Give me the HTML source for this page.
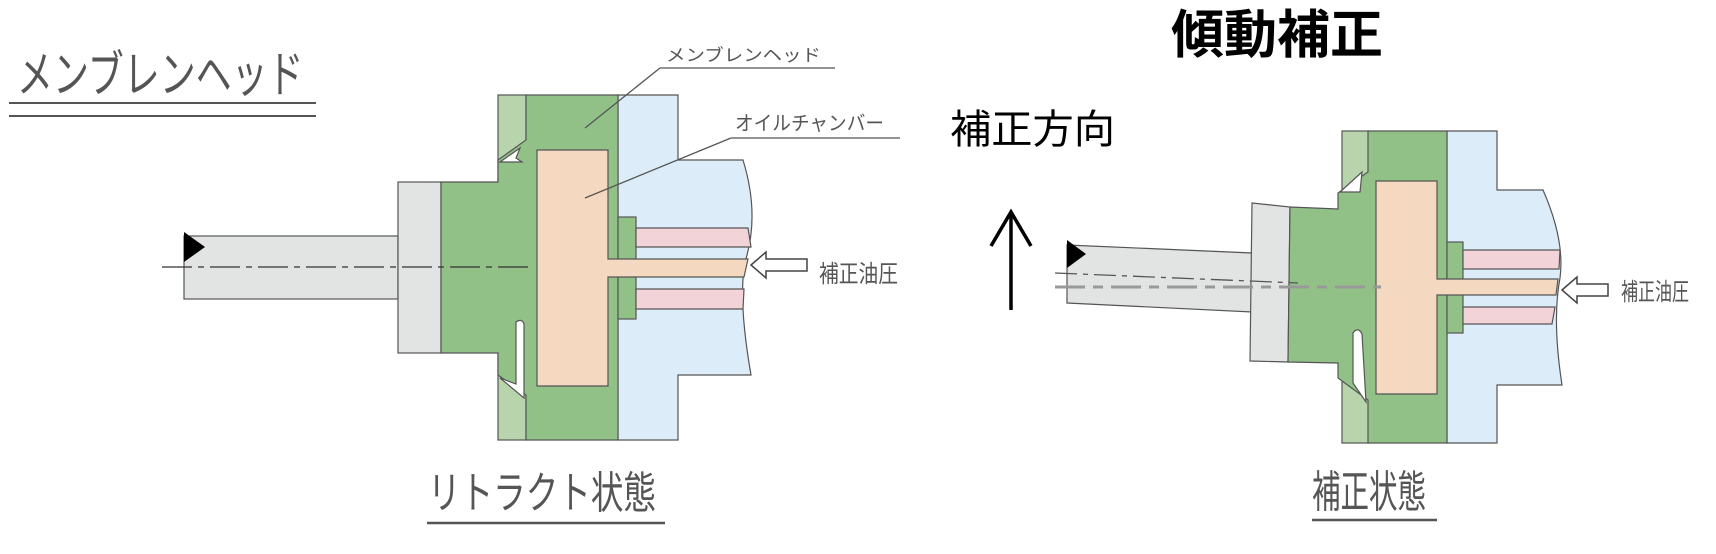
<!DOCTYPE html>
<html><head><meta charset="utf-8"><style>
html,body{margin:0;padding:0;background:#fff;}
svg{display:block;}
.t{font-family:"Liberation Sans","Noto Sans CJK JP",sans-serif;}
</style></head><body>
<svg width="1716" height="554" viewBox="0 0 1716 554" xmlns="http://www.w3.org/2000/svg">
<g stroke="#555" stroke-width="1.2">
<!-- LEFT DIAGRAM -->
<!-- blue housing -->
<path d="M618,95 H678 V160 H743 Q760,215 745,262 Q738,300 751,375 H678 V440 H618 Z" fill="#dcecf8"/>
<!-- shaft -->
<rect x="184" y="236" width="214" height="63" fill="#e2e3e3"/>
<!-- hub -->
<rect x="398" y="182" width="43" height="171" fill="#e2e3e3"/>
<!-- light green flange -->
<rect x="498" y="95" width="28" height="345" fill="#b7d4ad"/>
<!-- green body -->
<path d="M441,182 H498 V160 L526,140 V95 H618 V440 H526 V395 L498,375 V353 H441 Z" fill="#92c188"/>
<rect x="618" y="217" width="18" height="102" fill="#92c188"/>
<!-- notches -->
<path d="M500,162 L520,148 L516,158 L522,162 Z" fill="#fff"/>
<path d="M516,322 Q522,318 524,324 L524,398 L500,378 L516,384 Z" fill="#fff"/>
<!-- orange chamber -->
<path d="M537,150 H608 V259 H748 L744,277 H608 V386 H537 Z" fill="#f4d8c0"/>
<!-- pink -->
<path d="M636,228 H748 L751,247 H636 Z" fill="#f2d3d8"/>
<path d="M636,289 H744 L743,309 H636 Z" fill="#f2d3d8"/>
<!-- centerline -->
<line x1="162" y1="267" x2="530" y2="267" stroke="#333" stroke-dasharray="30,6,6,6"/>
</g>
<path d="M184,232 L205,247 L184,262 Z" fill="#000"/>
<!-- leaders -->
<g stroke="#555" stroke-width="1.3" fill="none">
<line x1="660" y1="68" x2="835" y2="68"/>
<line x1="660" y1="68" x2="585" y2="128"/>
<line x1="731" y1="138" x2="900" y2="138"/>
<line x1="731" y1="138" x2="585" y2="198"/>
<line x1="9" y1="103" x2="316" y2="103" stroke-width="2"/>
<line x1="9" y1="116" x2="316" y2="116" stroke-width="2"/>
<line x1="427" y1="523" x2="665" y2="523" stroke-width="2.5"/>
<line x1="1312" y1="520" x2="1437" y2="520" stroke-width="2.5"/>
<!-- hollow arrows -->
<path d="M751,265 L766,252 V259 H807 V271 H766 V278 Z" stroke="#444" stroke-width="1.5"/>
<path d="M1562,290 L1577,277 V284 H1608 V296 H1577 V303 Z" stroke="#444" stroke-width="1.5"/>
</g>

<!-- RIGHT DIAGRAM -->
<g stroke="#555" stroke-width="1.2">
<path d="M1447,131 H1497 V190 H1543 Q1565,240 1560,278 Q1552,320 1562,385 H1497 V443 H1447 Z" fill="#dcecf8"/>
<path d="M1067,245 L1252,253 V312 L1067,303 Z" fill="#e2e3e3"/>
<path d="M1252,203 L1290,207 L1288,362 L1250,361 Z" fill="#e2e3e3"/>
<rect x="1342" y="131" width="27" height="312" fill="#b7d4ad"/>
<path d="M1290,207 L1338,209 V193 L1368,172 V131 H1447 V443 H1368 V400 L1338,378 V363 L1288,362 Z" fill="#92c188"/>
<rect x="1447" y="242" width="16" height="91" fill="#92c188"/>
<path d="M1340,192 L1362,172 L1360,192 Z" fill="#fff"/>
<path d="M1353,333 Q1358,326 1362,334 L1366,402 L1353,383 Z" fill="#fff"/>
<path d="M1376,181 H1437 V279 H1558 L1556,295 H1437 V394 H1376 Z" fill="#f4d8c0"/>
<path d="M1463,250 H1560 L1559,269 H1463 Z" fill="#f2d3d8"/>
<path d="M1463,307 H1555 L1552,324 H1463 Z" fill="#f2d3d8"/>
</g>
<line x1="1055" y1="273" x2="1298" y2="283" stroke="#555" stroke-width="1.3" stroke-dasharray="22,6,5,6"/>
<line x1="1055" y1="287" x2="1381" y2="287" stroke="#999" stroke-width="3" stroke-dasharray="30,8,10,8"/>
<path d="M1067,240 L1086,254 L1067,268 Z" fill="#000"/>

<!-- up arrow -->
<g stroke="#000" stroke-width="3.5" fill="none">
<line x1="1011" y1="212" x2="1011" y2="310"/>
<polyline points="991,246 1011,212 1031,246"/>
</g>

<!-- TEXT -->
<text class="t" x="17" y="92" font-size="50" fill="#555" transform="translate(17 0) scale(0.72 1) translate(-17 0)" textLength="398">メンブレンヘッド</text>
<text class="t" x="666" y="61" font-size="17" fill="#555" textLength="155" lengthAdjust="spacingAndGlyphs">メンブレンヘッド</text>
<text class="t" x="735" y="130" font-size="20" fill="#555" textLength="149" lengthAdjust="spacingAndGlyphs">オイルチャンバー</text>
<text class="t" x="819" y="282" font-size="24" fill="#555" textLength="79" lengthAdjust="spacingAndGlyphs">補正油圧</text>
<text class="t" x="1621" y="300" font-size="24" fill="#555" textLength="68" lengthAdjust="spacingAndGlyphs">補正油圧</text>
<text class="t" x="428" y="508" font-size="44" fill="#555" textLength="228" lengthAdjust="spacingAndGlyphs">リトラクト状態</text>
<text class="t" x="1312" y="507" font-size="44" fill="#555" textLength="114" lengthAdjust="spacingAndGlyphs">補正状態</text>
<text class="t" x="1171" y="53" font-size="52" font-weight="bold" fill="#000" textLength="212" lengthAdjust="spacingAndGlyphs">傾動補正</text>
<text class="t" x="950" y="143" font-size="40" fill="#000" textLength="165" lengthAdjust="spacingAndGlyphs">補正方向</text>
</svg>
</body></html>
